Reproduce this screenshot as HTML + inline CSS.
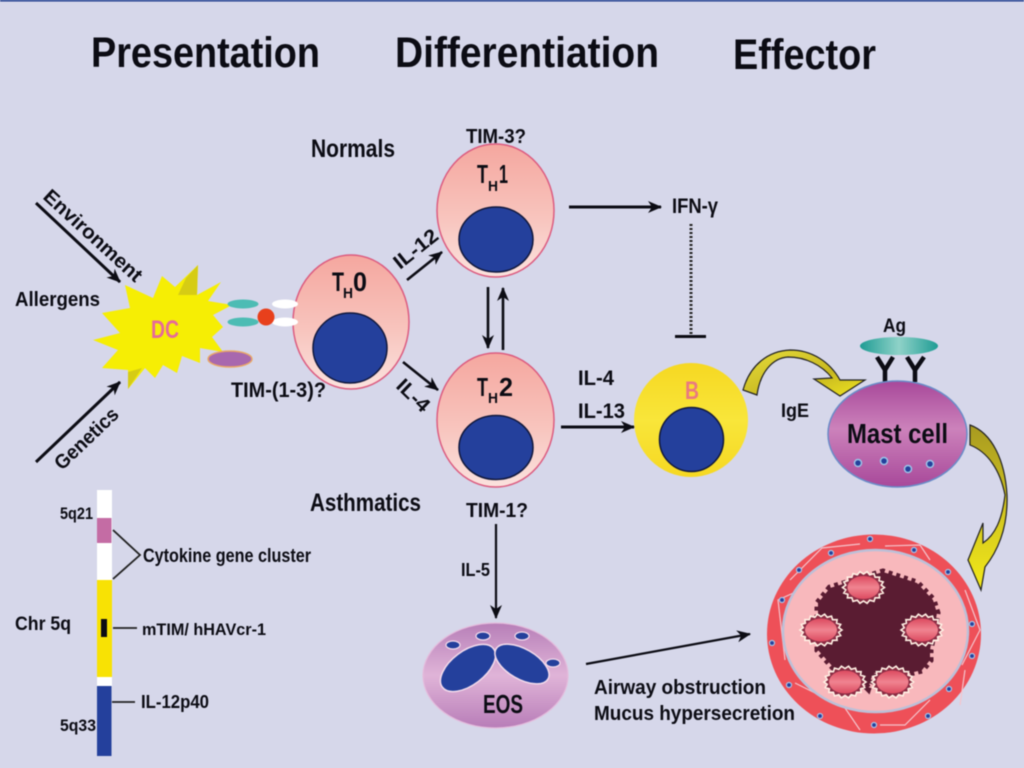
<!DOCTYPE html>
<html><head><meta charset="utf-8"><title>Diagram</title>
<style>
html,body{margin:0;padding:0;background:#d6d7ea;width:1024px;height:768px;overflow:hidden}
svg{display:block;filter:blur(.6px)}
text{font-family:"Liberation Sans",sans-serif;font-weight:bold;fill:#0c0c14}
</style></head><body>
<svg width="1024" height="768" viewBox="0 0 1024 768" xmlns="http://www.w3.org/2000/svg">
<defs>
<linearGradient id="cell" x1="0" y1="0" x2="0" y2="1"><stop offset="0" stop-color="#f5a79f"/><stop offset=".55" stop-color="#f8c4bd"/><stop offset="1" stop-color="#fbe2de"/></linearGradient>
<linearGradient id="byel" x1="0" y1="0" x2="0" y2="1"><stop offset="0" stop-color="#f6d822"/><stop offset=".5" stop-color="#f9e63a"/><stop offset="1" stop-color="#f6d822"/></linearGradient>
<linearGradient id="mast" x1="0" y1="0" x2="0" y2="1"><stop offset="0" stop-color="#a8489a"/><stop offset=".45" stop-color="#cc82bb"/><stop offset="1" stop-color="#a8489a"/></linearGradient>
<linearGradient id="eos" x1="0" y1="0" x2="0" y2="1"><stop offset="0" stop-color="#b77fb8"/><stop offset=".5" stop-color="#e0b4d8"/><stop offset="1" stop-color="#b87db8"/></linearGradient>
<linearGradient id="ag" x1="0" y1="0" x2="1" y2="0"><stop offset="0" stop-color="#1f9c94"/><stop offset=".5" stop-color="#8fd2c8"/><stop offset="1" stop-color="#1f9c94"/></linearGradient>
<linearGradient id="gold" x1="0" y1="0" x2="1" y2="1"><stop offset="0" stop-color="#e6dc3c"/><stop offset=".6" stop-color="#c8b820"/><stop offset="1" stop-color="#f0e620"/></linearGradient>
<linearGradient id="gold2" x1="0" y1="0" x2="0" y2="1"><stop offset="0" stop-color="#a89a20"/><stop offset=".5" stop-color="#d0c420"/><stop offset="1" stop-color="#f4ea18"/></linearGradient>
<linearGradient id="lumpg" x1="0" y1="0" x2="0" y2="1"><stop offset="0" stop-color="#dc4a60"/><stop offset=".5" stop-color="#f08490"/><stop offset="1" stop-color="#dc4a60"/></linearGradient>
<marker id="a" viewBox="0 0 14 12" refX="13" refY="6" markerWidth="14" markerHeight="12" markerUnits="userSpaceOnUse" orient="auto"><path d="M0 0L14 6L0 12L4 6Z" fill="#0c0c14"/></marker>
<g id="lump">
<polygon points="21,0 17.7,2.3 19.7,5.5 15.6,6.8 16.1,10.3 11.6,10.3 10.5,13.9 6.2,12.7 3.6,15.8 0,13.5 -3.6,15.8 -6.2,12.7 -10.5,13.9 -11.6,10.3 -16.1,10.3 -15.6,6.8 -19.7,5.5 -17.7,2.3 -21,0 -17.7,-2.3 -19.7,-5.5 -15.6,-6.8 -16.1,-10.3 -11.6,-10.3 -10.5,-13.9 -6.2,-12.7 -3.6,-15.8 0,-13.5 3.6,-15.8 6.2,-12.7 10.5,-13.9 11.6,-10.3 16.1,-10.3 15.6,-6.8 19.7,-5.5 17.7,-2.3" fill="#8a2c44" stroke="#fff0e4" stroke-width="1.6"/>
<ellipse rx="16" ry="11.5" fill="url(#lumpg)"/>
</g>
</defs>
<rect width="1024" height="768" fill="#d6d7ea"/>
<rect width="1024" height="1.5" fill="#1c3a8c"/>

<!-- titles -->
<text x="91" y="67" font-size="43" textLength="229" lengthAdjust="spacingAndGlyphs">Presentation</text>
<text x="395" y="67" font-size="43" textLength="264" lengthAdjust="spacingAndGlyphs">Differentiation</text>
<text x="733" y="69" font-size="43" textLength="143" lengthAdjust="spacingAndGlyphs">Effector</text>

<!-- left arrows -->
<line x1="36" y1="203" x2="120" y2="282" stroke="#0c0c14" stroke-width="3" marker-end="url(#a)"/>
<line x1="36" y1="462" x2="120" y2="382" stroke="#0c0c14" stroke-width="3" marker-end="url(#a)"/>
<text transform="translate(42 198) rotate(42.4)" font-size="20" textLength="126" lengthAdjust="spacingAndGlyphs">Environment</text>
<text transform="translate(62 471) rotate(-43.5)" font-size="20" textLength="80" lengthAdjust="spacingAndGlyphs">Genetics</text>
<text x="15" y="306" font-size="20" textLength="85" lengthAdjust="spacingAndGlyphs">Allergens</text>

<!-- DC -->
<polygon fill="#f6ee04" points="125,285 153,298 162,276 175,287 198,265 197,295 221,282 208,301 232,305 213,315 223,327 212,337 223,352 200,348 200,363 182,356 177,373 163,365 155,378 145,368 128,389 128,370 102,368 118,350 93,340 120,333 102,313 130,308"/>
<polygon fill="#d6cc14" points="198,265 197,295 178,295 186,278"/>
<polygon fill="#d6cc14" points="128,389 128,372 142,368"/>
<text x="151" y="338" font-size="25" textLength="28" lengthAdjust="spacingAndGlyphs" style="fill:#e66a9a">DC</text>
<ellipse cx="243" cy="304" rx="15.5" ry="4.5" fill="#4cbcb4"/>
<ellipse cx="243" cy="322" rx="15.5" ry="4.5" fill="#4cbcb4"/>
<ellipse cx="230" cy="359" rx="22" ry="8" fill="#a868ae" stroke="#eaa868" stroke-width="1.5"/>

<!-- TH0 -->
<ellipse cx="351" cy="322" rx="58" ry="67" fill="url(#cell)" stroke="#dc5c80" stroke-width="1.5"/>
<ellipse cx="285" cy="304" rx="13" ry="4.5" fill="#fff"/>
<ellipse cx="285" cy="322" rx="13" ry="4.5" fill="#fff"/>
<circle cx="266" cy="317" r="8.5" fill="#e8401c"/>
<ellipse cx="350" cy="348" rx="37" ry="35" fill="#24409c" stroke="#11183c" stroke-width="1.5"/>
<text x="332" y="291" font-size="27" textLength="12" lengthAdjust="spacingAndGlyphs">T</text>
<text x="343" y="298" font-size="15" textLength="10" lengthAdjust="spacingAndGlyphs">H</text>
<text x="353" y="291" font-size="27" textLength="14" lengthAdjust="spacingAndGlyphs">0</text>
<text x="231" y="397" font-size="21" textLength="95" lengthAdjust="spacingAndGlyphs">TIM-(1-3)?</text>

<!-- TH1 -->
<ellipse cx="495.5" cy="210.5" rx="58.5" ry="66.5" fill="url(#cell)" stroke="#dc5c80" stroke-width="1.5"/>
<ellipse cx="496" cy="239.5" rx="37" ry="32.5" fill="#24409c" stroke="#11183c" stroke-width="1.5"/>
<text x="477" y="183" font-size="26" textLength="11" lengthAdjust="spacingAndGlyphs">T</text>
<text x="488" y="191" font-size="15" textLength="10" lengthAdjust="spacingAndGlyphs">H</text>
<text x="499" y="183" font-size="26" textLength="9" lengthAdjust="spacingAndGlyphs">1</text>
<text x="466" y="143" font-size="20" textLength="60" lengthAdjust="spacingAndGlyphs">TIM-3?</text>
<text x="311" y="157" font-size="25" textLength="84" lengthAdjust="spacingAndGlyphs">Normals</text>

<!-- TH2 -->
<ellipse cx="495.5" cy="420" rx="58.5" ry="67" fill="url(#cell)" stroke="#dc5c80" stroke-width="1.5"/>
<ellipse cx="496" cy="447.5" rx="37" ry="32" fill="#24409c" stroke="#11183c" stroke-width="1.5"/>
<text x="477" y="396" font-size="26" textLength="11" lengthAdjust="spacingAndGlyphs">T</text>
<text x="488" y="403" font-size="15" textLength="10" lengthAdjust="spacingAndGlyphs">H</text>
<text x="499" y="396" font-size="26" textLength="14" lengthAdjust="spacingAndGlyphs">2</text>
<text x="310" y="511" font-size="25" textLength="111" lengthAdjust="spacingAndGlyphs">Asthmatics</text>
<text x="466" y="517" font-size="20" textLength="62" lengthAdjust="spacingAndGlyphs">TIM-1?</text>

<!-- arrows centre -->
<line x1="407" y1="280" x2="442" y2="252" stroke="#0c0c14" stroke-width="2.6" marker-end="url(#a)"/>
<line x1="403" y1="362" x2="438" y2="390" stroke="#0c0c14" stroke-width="2.6" marker-end="url(#a)"/>
<text transform="translate(400 270) rotate(-38.7)" font-size="20" textLength="51" lengthAdjust="spacingAndGlyphs">IL-12</text>
<text transform="translate(395 387) rotate(44)" font-size="20" textLength="38" lengthAdjust="spacingAndGlyphs">IL-4</text>
<line x1="488" y1="287" x2="488" y2="348" stroke="#0c0c14" stroke-width="2.6" marker-end="url(#a)"/>
<line x1="503" y1="350" x2="503" y2="288" stroke="#0c0c14" stroke-width="2.6" marker-end="url(#a)"/>
<line x1="569" y1="207" x2="661" y2="207" stroke="#0c0c14" stroke-width="3" marker-end="url(#a)"/>
<text x="672" y="213" font-size="21" textLength="46" lengthAdjust="spacingAndGlyphs">IFN-γ</text>
<line x1="691" y1="224" x2="691" y2="335" stroke="#222" stroke-width="3" stroke-dasharray="2 2"/>
<rect x="675" y="335" width="31" height="3" fill="#0c0c14"/>
<text x="578" y="385" font-size="21" textLength="36" lengthAdjust="spacingAndGlyphs">IL-4</text>
<text x="578" y="418" font-size="21" textLength="47" lengthAdjust="spacingAndGlyphs">IL-13</text>
<line x1="561" y1="427" x2="634" y2="427" stroke="#0c0c14" stroke-width="3" marker-end="url(#a)"/>
<line x1="496" y1="524" x2="496" y2="618" stroke="#0c0c14" stroke-width="2.2" marker-end="url(#a)"/>
<text x="461" y="576" font-size="18" textLength="29" lengthAdjust="spacingAndGlyphs">IL-5</text>

<!-- B -->
<circle cx="691" cy="420" r="57" fill="url(#byel)"/>
<circle cx="691.5" cy="439.5" r="32" fill="#24409c" stroke="#11183c" stroke-width="1.5"/>
<text x="685" y="399" font-size="25" textLength="14" lengthAdjust="spacingAndGlyphs" style="fill:#ea7a80">B</text>
<text x="781" y="417" font-size="19" textLength="28" lengthAdjust="spacingAndGlyphs">IgE</text>

<!-- yellow arrow top -->
<path d="M743 390C750 365 768 351 790 350C812 350 830 362 840 380L865 380L840 396L814 379L832 378C822 365 805 357 788 357C772 358 760 373 757 395Z" fill="url(#gold)" stroke="#222" stroke-width="1.2"/>

<!-- Ag -->
<ellipse cx="899" cy="346" rx="39" ry="9" fill="url(#ag)"/>
<text x="883" y="332" font-size="19" textLength="23" lengthAdjust="spacingAndGlyphs">Ag</text>
<path d="M877 357L885 370L893 357M885 370V382M907 357L915 370L924 357M915 370V382" fill="none" stroke="#0c0c14" stroke-width="4.5"/>

<!-- Mast -->
<ellipse cx="897.5" cy="434" rx="69.5" ry="53" fill="url(#mast)" stroke="#6a8cc8" stroke-width="1.5"/>
<text x="847" y="443" font-size="28" textLength="101" lengthAdjust="spacingAndGlyphs">Mast cell</text>
<g fill="#24409c" stroke="#9cc4e8" stroke-width="1.5"><circle cx="858" cy="463" r="3.5"/><circle cx="884" cy="461" r="3.5"/><circle cx="908" cy="469" r="3.5"/><circle cx="930" cy="464" r="3.5"/></g>

<!-- yellow arrow right -->
<path d="M970 425C992 433 1005 460 1007 495C1008 525 1000 548 985 567L981 590L968 560L983 523L983 543C995 535 1002 520 1005 495C1000 470 988 452 970 445Z" fill="url(#gold2)" stroke="#222" stroke-width="1.2"/>

<!-- Airway -->
<ellipse cx="874" cy="634" rx="107" ry="99.5" fill="#ee5058"/>
<g fill="none" stroke="#f4c4cc" stroke-width="1.2">
<path d="M790 580L822 548L860 544M885 546L920 545L930 560M965 590L980 630L962 665M965 670L960 705M930 700L905 725L880 725M860 730L845 708L795 683M785 660L778 600L800 590"/>
</g>
<ellipse cx="875.5" cy="631" rx="92.5" ry="81" fill="#f8b8bc" stroke="#bcc0d8" stroke-width="2.5"/>
<polygon points="818,603 830,588 883,572 917,583 933,600 937,613 930,650 930,660 922,670 910,673 873,673 868,688 863,683 833,667 818,650" fill="#5a1c32"/>
<polygon points="818,603 830,588 883,572 917,583 933,600 937,613 930,650 930,660 922,670 910,673 873,673 868,688 863,683 833,667 818,650" fill="none" stroke="#5a1c32" stroke-width="7" stroke-dasharray="4 4"/>
<use href="#lump" transform="translate(863.5 587.5)"/>
<use href="#lump" transform="translate(821 630)"/>
<use href="#lump" transform="translate(922 630)"/>
<use href="#lump" transform="translate(845 682)"/>
<use href="#lump" transform="translate(892.5 682)"/>
<g fill="#24409c" stroke="#a8c4e8" stroke-width="1.2">
<circle cx="870" cy="539" r="2.5"/><circle cx="914" cy="550" r="2.5"/><circle cx="948" cy="572" r="2.5"/><circle cx="972" cy="624" r="2.5"/><circle cx="972" cy="656" r="2.5"/><circle cx="949" cy="689" r="2.5"/><circle cx="928" cy="716" r="2.5"/><circle cx="874" cy="725" r="2.5"/><circle cx="820" cy="716" r="2.5"/><circle cx="789" cy="685" r="2.5"/><circle cx="772" cy="643" r="2.5"/><circle cx="782" cy="600" r="2.5"/><circle cx="799" cy="570" r="2.5"/><circle cx="831" cy="553" r="2.5"/>
</g>

<!-- EOS -->
<ellipse cx="495.5" cy="675.5" rx="72.5" ry="52.5" fill="url(#eos)" stroke="#e4bcdc" stroke-width="1.2"/>
<ellipse cx="468" cy="668" rx="32" ry="17" transform="rotate(-37 468 668)" fill="#24409c" stroke="#f4dcec" stroke-width="1.5"/>
<ellipse cx="522" cy="664" rx="30" ry="15" transform="rotate(30 522 664)" fill="#24409c" stroke="#f4dcec" stroke-width="1.5"/>
<g fill="#24409c" stroke="#f4dcec" stroke-width="1.2"><ellipse cx="453" cy="645" rx="7" ry="4"/><ellipse cx="483" cy="636" rx="7" ry="4"/><ellipse cx="522" cy="636" rx="7" ry="4"/><ellipse cx="553" cy="663" rx="7" ry="4"/></g>
<text x="483" y="713" font-size="26" textLength="40" lengthAdjust="spacingAndGlyphs">EOS</text>
<line x1="586" y1="664" x2="750" y2="634" stroke="#0c0c14" stroke-width="2.2" marker-end="url(#a)"/>
<text x="594" y="694" font-size="20" textLength="172" lengthAdjust="spacingAndGlyphs">Airway obstruction</text>
<text x="594" y="720" font-size="20" textLength="201" lengthAdjust="spacingAndGlyphs">Mucus hypersecretion</text>

<!-- chromosome -->
<rect x="97" y="490" width="15" height="90" fill="#fff"/>
<rect x="97" y="518" width="14.5" height="25" fill="#c46ca4"/>
<rect x="97" y="580" width="15" height="97" fill="#f8e204"/>
<rect x="97" y="677" width="15" height="9" fill="#fff"/>
<rect x="97" y="686" width="14.5" height="70" fill="#24409c"/>
<rect x="101" y="619" width="6" height="18" fill="#0c0c14"/>
<path d="M113 530L140 555L113 579M113 628H137M112 702H135" fill="none" stroke="#222" stroke-width="1.8"/>
<text x="60" y="519" font-size="17" textLength="33" lengthAdjust="spacingAndGlyphs">5q21</text>
<text x="60" y="731" font-size="17" textLength="36" lengthAdjust="spacingAndGlyphs">5q33</text>
<text x="15" y="630" font-size="19" textLength="56" lengthAdjust="spacingAndGlyphs">Chr 5q</text>
<text x="143" y="562" font-size="19" textLength="168" lengthAdjust="spacingAndGlyphs">Cytokine gene cluster</text>
<text x="142" y="635" font-size="17" textLength="124" lengthAdjust="spacingAndGlyphs">mTIM/ hHAVcr-1</text>
<text x="141" y="708" font-size="18" textLength="68" lengthAdjust="spacingAndGlyphs">IL-12p40</text>
</svg>
</body></html>
